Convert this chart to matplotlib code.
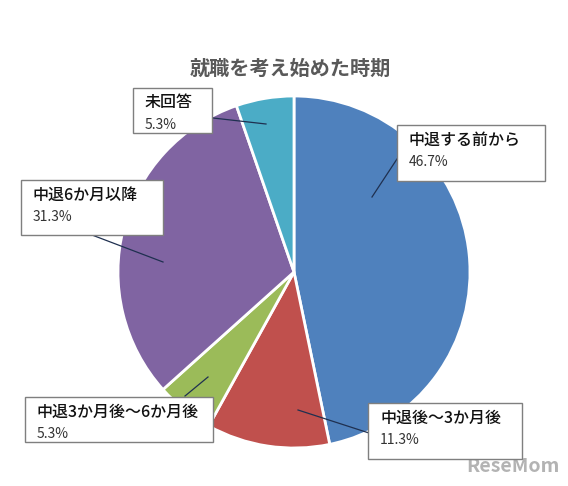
import matplotlib.pyplot as plt
from matplotlib.patches import Rectangle

plt.rcParams['font.family'] = ['Noto Sans CJK JP', 'DejaVu Sans']

# data
labels = ['中退する前から', '中退後～3か月後', '中退3か月後～6か月後', '中退6か月以降', '未回答']
values = [46.7, 11.3, 5.3, 31.3, 5.3]
colors = ['#4F81BD', '#C0504D', '#9BBB59', '#8064A2', '#4BACC6']

W, H = 568, 486

# label boxes in pixel coords: (left, top, right, bottom)
boxes = [(397, 125, 545, 181), (368, 403, 522, 459), (25, 397, 213, 442),
         (21, 180, 163, 235), (133, 88, 212, 133)]
# leader lines: box point -> slice point
leaders = [((397, 159), (372, 197)), ((369, 433), (298, 410)), ((185, 396), (208, 377)),
           ((92, 235), (163, 262)), ((213, 118), (266, 124))]

fig = plt.figure(figsize=(W / 100, H / 100), dpi=100)
ax = fig.add_axes([0, 0, 1, 1])


def Y(y):
    return H - y


ax.pie(values, colors=colors, startangle=90, counterclock=False,
       center=(294, Y(272)), radius=176, frame=True,
       wedgeprops=dict(edgecolor='white', linewidth=2))
ax.set_xlim(0, W)
ax.set_ylim(0, H)
ax.set_aspect('equal')
ax.axis('off')

for (p0, p1) in leaders:
    ax.plot([p0[0], p1[0]], [Y(p0[1]), Y(p1[1])], color='#1F3050', linewidth=0.9, zorder=3)

for lab, v, (l, t, r, b) in zip(labels, values, boxes):
    ax.add_patch(Rectangle((l, Y(b)), r - l, b - t, facecolor='white',
                           edgecolor='#7F7F7F', linewidth=1.0, zorder=4))
    ax.text(l + 12, Y(t + 15), lab, fontsize=11.5, fontweight='medium', color='#111111',
            va='center', ha='left', zorder=5)
    ax.text(l + 12, Y(t + 37), f'{v:.1f}%', fontsize=10, color='#333333',
            va='center', ha='left', zorder=5)

ax.text(290, Y(68), '就職を考え始めた時期', fontsize=14.5, fontweight='bold',
        color='#595959', ha='center', va='center')

ax.text(513, Y(466), 'ReseMom', fontsize=14, fontweight='bold', color='#A0A0A0',
        ha='center', va='center', alpha=0.8)

fig.savefig('out.png', dpi=100)
